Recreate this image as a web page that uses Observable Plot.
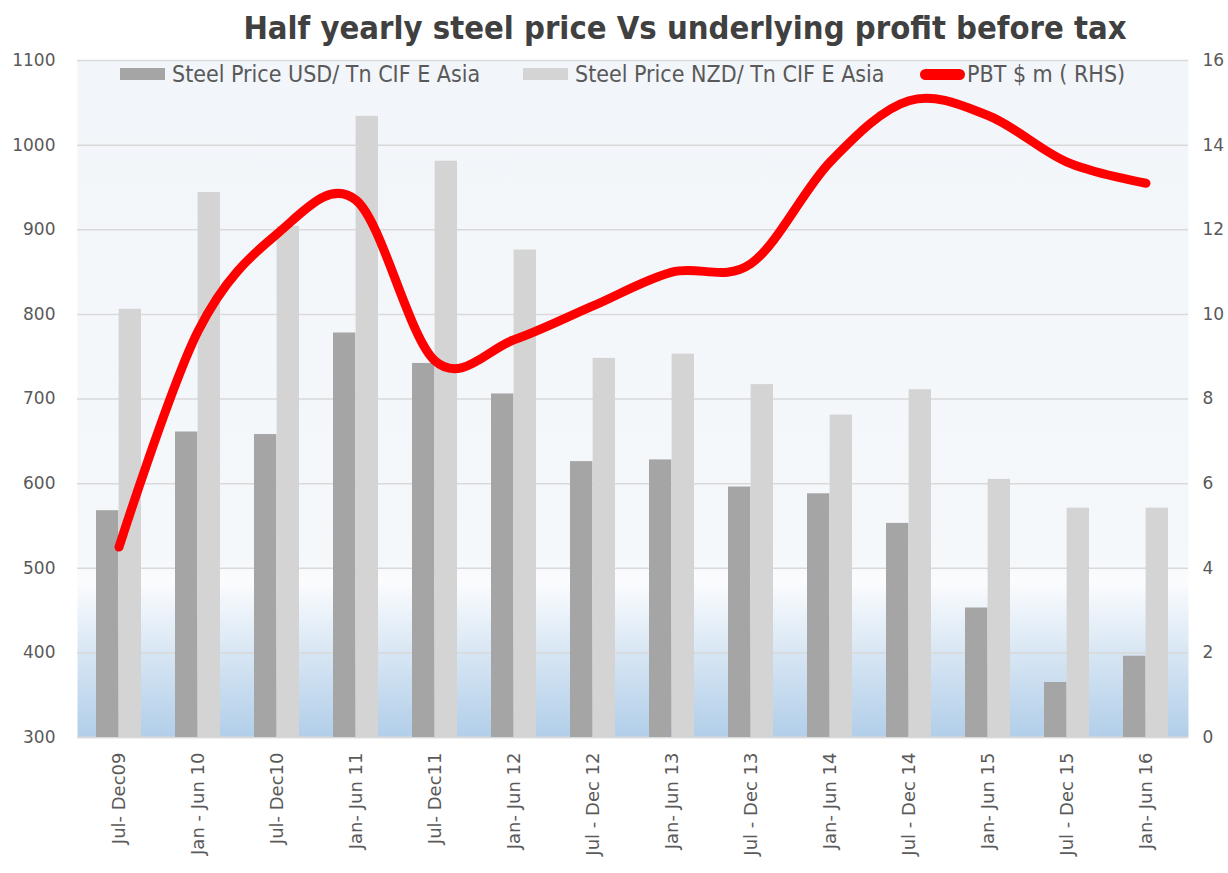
<!DOCTYPE html>
<html>
<head>
<meta charset="utf-8">
<script src="https://cdn.jsdelivr.net/npm/d3@7"></script>
<script src="https://cdn.jsdelivr.net/npm/@observablehq/plot@0.6"></script>
<style>
  body { margin: 0; background: #ffffff; }
  #wrap { position: relative; width: 1228px; height: 873px; overflow: hidden; }
  #title { position: absolute; top: 6px; left: 685px; transform: translateX(-50%); white-space: nowrap;
           font-family: "Liberation Sans Narrow", "DejaVu Sans Condensed", "Liberation Sans", sans-serif;
           font-weight: bold; font-size: 32.5px; line-height: 44px; color: #404040; }
  #chart { position: absolute; top: 48px; left: 0; }
  .lg { position: absolute; top: 61px; white-space: nowrap; display: flex; align-items: center;
        font-family: "Liberation Sans Narrow", "DejaVu Sans Condensed", "Liberation Sans", sans-serif;
        font-size: 23px; color: #595959; }
  .sw { display: inline-block; width: 45px; height: 12px; margin-right: 7px; }
</style>
</head>
<body>
<div id="wrap">
  <div id="title">Half yearly steel price Vs underlying profit before tax</div>
  <div id="chart"></div>
  <div class="lg" style="left:120px"><span class="sw" style="background:#a5a5a5"></span><span id="lg1"></span></div>
  <div class="lg" style="left:523px"><span class="sw" style="background:#d4d4d4"></span><span id="lg2"></span></div>
  <div class="lg" style="left:920px"><span class="sw" style="background:#ff0000;height:11px;border-radius:6px;margin-right:2px"></span><span id="lg3"></span></div>
</div>
<script>
// ---- data ----
const categories = ["Jul- Dec09", "Jan - Jun 10", "Jul- Dec10", "Jan- Jun 11", "Jul- Dec11", "Jan- Jun 12",
  "Jul - Dec 12", "Jan- Jun 13", "Jul - Dec 13", "Jan- Jun 14", "Jul - Dec 14", "Jan- Jun 15", "Jul - Dec 15", "Jan- Jun 16"];
const usdPrice = [568, 661, 658, 778, 742, 706, 626, 628, 596, 588, 553, 453, 365, 396];
const nzdPrice = [806, 944, 904, 1034, 981, 876, 748, 753, 717, 681, 711, 605, 571, 571];
const pbt = [4.5, 9.6, 11.9, 12.7, 8.9, 9.4, 10.2, 11.0, 11.2, 13.6, 15.05, 14.7, 13.6, 13.1];
const leftTicks = [300, 400, 500, 600, 700, 800, 900, 1000, 1100];
const rightTicks = [0, 2, 4, 6, 8, 10, 12, 14, 16];
const seriesNames = ["Steel Price USD/ Tn CIF E Asia", "Steel Price NZD/ Tn CIF E Asia", "PBT $ m ( RHS)"];

document.getElementById("lg1").textContent = seriesNames[0];
document.getElementById("lg2").textContent = seriesNames[1];
document.getElementById("lg3").textContent = seriesNames[2];

// right axis (0..16) mapped onto left axis domain (300..1100)
const leftMin = leftTicks[0], leftMax = leftTicks[leftTicks.length - 1];
const rightMax = rightTicks[rightTicks.length - 1];
const toLeft = v => leftMin + v * (leftMax - leftMin) / rightMax;
const toRight = v => (v - leftMin) * rightMax / (leftMax - leftMin);

const data = categories.map((c, i) => ({cat: c, usd: usdPrice[i], nzd: nzdPrice[i], pbt: pbt[i]}));

const chart = Plot.plot({
  width: 1228,
  height: 825,
  marginTop: 12,
  marginBottom: 136,
  marginLeft: 77,
  marginRight: 40,
  style: {fontFamily: "'DejaVu Sans', sans-serif", fontSize: "16px", color: "#595959", background: "transparent", overflow: "visible"},
  x: {domain: categories, paddingInner: 0.43, paddingOuter: 0.215, label: null},
  y: {domain: [leftMin, leftMax], label: null},
  marks: [
    Plot.frame({fill: "url(#bgGrad)", stroke: null}),
    Plot.gridY(leftTicks, {stroke: "#d9d9d9", strokeOpacity: 1, strokeWidth: 1.5}),
    Plot.ruleY([leftMin], {stroke: "#d9d9d9", strokeWidth: 1.5}),
    Plot.barY(data, {x: "cat", y1: leftMin, y2: "usd", fill: "#a5a5a5", insetRight: 22.6}),
    Plot.barY(data, {x: "cat", y1: leftMin, y2: "nzd", fill: "#d4d4d4", insetLeft: 22.6}),
    Plot.line(data, {x: "cat", y: d => toLeft(d.pbt), stroke: "#ff0000", strokeWidth: 9,
      curve: "cardinal", strokeLinecap: "round", strokeLinejoin: "round"}),
    Plot.axisY(leftTicks, {anchor: "left", tickSize: 0, tickPadding: 22, fontSize: 17, label: null,
      tickFormat: d => String(d)}),
    Plot.axisY(leftTicks, {anchor: "right", tickSize: 0, tickPadding: 14, fontSize: 17, label: null,
      tickFormat: d => String(toRight(d))}),
    Plot.axisX({tickRotate: -90, tickSize: 0, tickPadding: 15, fontSize: 18, label: null})
  ]
});

const svg = d3.select(chart);
const defs = svg.insert("defs", ":first-child");
const grad = defs.append("linearGradient").attr("id", "bgGrad")
  .attr("x1", 0).attr("y1", 0).attr("x2", 0).attr("y2", 1);
[[0, "#f2f5f9"], [0.74, "#f5f8fb"], [0.77, "#fbfcfe"], [0.88, "#d6e5f3"], [1, "#b1cee9"]]
  .forEach(([o, c]) => grad.append("stop").attr("offset", o).attr("stop-color", c));

document.getElementById("chart").appendChild(chart);
</script>
</body>
</html>
